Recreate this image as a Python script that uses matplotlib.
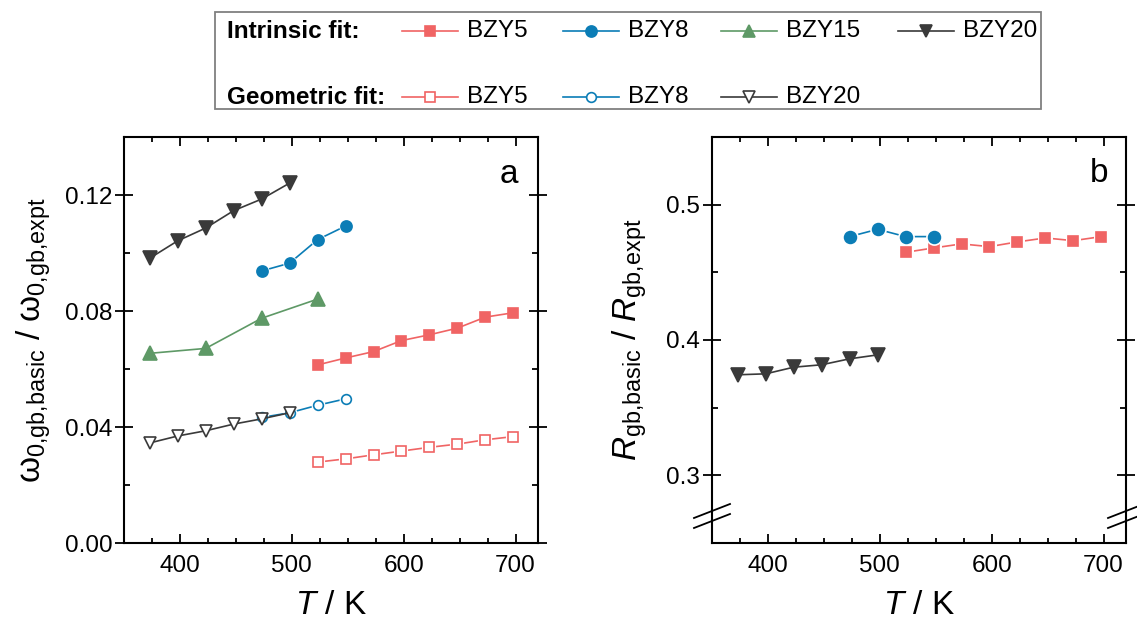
import matplotlib
matplotlib.use('Agg')
import matplotlib.pyplot as plt
from matplotlib.lines import Line2D
from matplotlib.patches import Rectangle
from matplotlib.ticker import MultipleLocator, FormatStrFormatter

plt.rcParams['font.family'] = ['Liberation Sans', 'DejaVu Sans']
plt.rcParams['mathtext.fontset'] = 'custom'
plt.rcParams['mathtext.rm'] = 'Liberation Sans'
plt.rcParams['mathtext.it'] = 'Liberation Sans:italic'
plt.rcParams['mathtext.bf'] = 'Liberation Sans:bold'

# ---------------- data ----------------
T_bzy5 = [523, 548, 573, 598, 623, 648, 673, 698]
T_bzy8 = [473, 498, 523, 548]
T_bzy15 = [373, 423, 473, 523]
T_bzy20 = [373, 398, 423, 448, 473, 498]

# panel a: omega ratio, intrinsic fit
w_int_bzy5 = [0.0614, 0.0638, 0.0660, 0.0698, 0.0718, 0.0741, 0.0779, 0.0794]
w_int_bzy8 = [0.0938, 0.0965, 0.1046, 0.1093]
w_int_bzy15 = [0.0654, 0.0671, 0.0775, 0.0841]
w_int_bzy20 = [0.0982, 0.1042, 0.1086, 0.1146, 0.1186, 0.1241]
# panel a: omega ratio, geometric fit
w_geo_bzy5 = [0.0279, 0.0290, 0.0304, 0.0317, 0.0330, 0.0341, 0.0356, 0.0367]
w_geo_bzy8 = [0.0433, 0.0449, 0.0475, 0.0497]
w_geo_bzy20 = [0.0345, 0.0369, 0.0387, 0.0410, 0.0428, 0.0449]

# panel b: R ratio
r_bzy5 = [0.4648, 0.4680, 0.4710, 0.4690, 0.4725, 0.4754, 0.4734, 0.4764]
r_bzy8 = [0.4764, 0.4818, 0.4764, 0.4764]
r_bzy20 = [0.3743, 0.3750, 0.3799, 0.3817, 0.3861, 0.3890]

RED = '#F06464'
BLUE = '#0B7DB6'
GREEN = '#5E9966'
DARK = '#3A3A3A'

W, H = 1137, 626
fig = plt.figure(figsize=(W / 100, H / 100), dpi=100)


def px_rect(x0, y0, x1, y1):
    return [x0 / W, 1 - y1 / H, (x1 - x0) / W, (y1 - y0) / H]


axA = fig.add_axes(px_rect(124, 137, 538, 543))
axB = fig.add_axes(px_rect(712, 137, 1126, 543))


def series(ax, x, y, color, marker, ms, filled, gap=0.0, z=3):
    ax.plot(x, y, '-', color=color, lw=1.2, zorder=z)
    if gap:
        ax.plot(x, y, linestyle='none', marker=marker, ms=ms, mfc='white',
                mec='white', mew=gap * 2, zorder=z + 0.1)
    ax.plot(x, y, linestyle='none', marker=marker, ms=ms,
            mfc=color if filled else 'white', mec=color, mew=1.2, zorder=z + 0.2)


# panel a
series(axA, T_bzy5, w_geo_bzy5, RED, 's', 6.5, False, gap=1.5, z=3)
series(axA, T_bzy8, w_geo_bzy8, BLUE, 'o', 7.0, False, gap=1.5, z=4)
series(axA, T_bzy20, w_geo_bzy20, DARK, 'v', 8.5, False, gap=0, z=5)
series(axA, T_bzy5, w_int_bzy5, RED, 's', 7.5, True, z=6)
series(axA, T_bzy8, w_int_bzy8, BLUE, 'o', 8.0, True, gap=1.2, z=7)
series(axA, T_bzy15, w_int_bzy15, GREEN, '^', 9.5, True, z=8)
series(axA, T_bzy20, w_int_bzy20, DARK, 'v', 9.5, True, z=9)

# panel b
series(axB, T_bzy5, r_bzy5, RED, 's', 7.5, True, gap=1.8, z=3)
series(axB, T_bzy8, r_bzy8, BLUE, 'o', 8.5, True, gap=1.8, z=4)
series(axB, T_bzy20, r_bzy20, DARK, 'v', 10, True, z=5)

for ax in (axA, axB):
    ax.set_xlim(350, 720)
    ax.xaxis.set_major_locator(MultipleLocator(100))
    ax.xaxis.set_minor_locator(MultipleLocator(25))
    ax.tick_params(which='both', top=True, right=True, labelsize=17.5, width=1.3)
    ax.tick_params(axis='x', which='major', direction='in', length=6.5, pad=9)
    ax.tick_params(axis='x', which='minor', direction='in', length=3.3)
    ax.tick_params(axis='y', which='major', direction='inout', length=13, pad=2)
    ax.tick_params(axis='y', which='minor', direction='in', length=4.3)
    for s in ax.spines.values():
        s.set_linewidth(1.5)
    ax.set_xlabel(r'$T$ / K', fontsize=24)
    ax.xaxis.set_label_coords(0.5, -0.115)

axA.set_ylim(0, 0.14)
axA.yaxis.set_major_locator(MultipleLocator(0.04))
axA.yaxis.set_minor_locator(MultipleLocator(0.02))
axA.yaxis.set_major_formatter(FormatStrFormatter('%.2f'))
axA.set_ylabel(r'ω$_{\mathrm{0{,}gb{,}basic}}$ / ω$_{\mathrm{0{,}gb{,}expt}}$', fontsize=24)
axA.yaxis.set_label_coords(-0.172, 0.5)

axB.set_ylim(0.25, 0.55)
axB.yaxis.set_major_locator(MultipleLocator(0.1))
axB.yaxis.set_minor_locator(MultipleLocator(0.05))
axB.yaxis.set_major_formatter(FormatStrFormatter('%.1f'))
axB.set_ylabel(r'$R_{\mathrm{gb{,}basic}}$ / $R_{\mathrm{gb{,}expt}}$', fontsize=24)
axB.yaxis.set_label_coords(-0.153, 0.5)

axA.text(0.952, 0.887, 'a', transform=axA.transAxes, ha='right', va='baseline', fontsize=24)
axB.text(0.957, 0.889, 'b', transform=axB.transAxes, ha='right', va='baseline', fontsize=24)

# axis break marks on panel b
yc = (543 - 516) / 406
ddx = 18 / 414
ddy = 7 / 406
off = 5 / 406
for xc in (0.0, 1.0):
    for o in (-off, off):
        axB.add_line(Line2D([xc - ddx, xc + ddx], [yc + o - ddy, yc + o + ddy],
                            transform=axB.transAxes, color='black', lw=1.3,
                            clip_on=False, zorder=10))

# ---------------- legend (drawn manually in figure coords) ----------------
fig.add_artist(Rectangle((215 / W, 1 - 109 / H), (1041 - 215) / W, (109 - 12) / H,
                         transform=fig.transFigure, fill=False, edgecolor='#808080', lw=1.3))
row_y = [31, 97]
fig.text(227 / W, 1 - row_y[0] / H, 'Intrinsic fit:', fontsize=17.5, weight='bold',
         ha='left', va='center')
fig.text(227 / W, 1 - row_y[1] / H, 'Geometric fit:', fontsize=17.5, weight='bold',
         ha='left', va='center')

leg_entries = [
    (402, 0, RED, 's', 7.5, True, 'BZY5'),
    (563, 0, BLUE, 'o', 8.0, True, 'BZY8'),
    (721, 0, GREEN, '^', 9.0, True, 'BZY15'),
    (898, 0, DARK, 'v', 9.0, True, 'BZY20'),
    (402, 1, RED, 's', 6.5, False, 'BZY5'),
    (563, 1, BLUE, 'o', 7.0, False, 'BZY8'),
    (721, 1, DARK, 'v', 8.5, False, 'BZY20'),
]
for x0, r, c, m, ms, filled, lab in leg_entries:
    fy = 1 - row_y[r] / H
    fig.add_artist(Line2D([x0 / W, (x0 + 56) / W], [fy, fy], color=c, lw=1.2,
                          transform=fig.transFigure))
    fig.add_artist(Line2D([(x0 + 28) / W], [fy], marker=m, ms=ms, mec=c, mew=1.2,
                          mfc=c if filled else 'white', linestyle='none',
                          transform=fig.transFigure))
    fig.text((x0 + 65) / W, fy, lab, fontsize=17.5, ha='left', va='center')

fig.savefig('out.png', dpi=100)
